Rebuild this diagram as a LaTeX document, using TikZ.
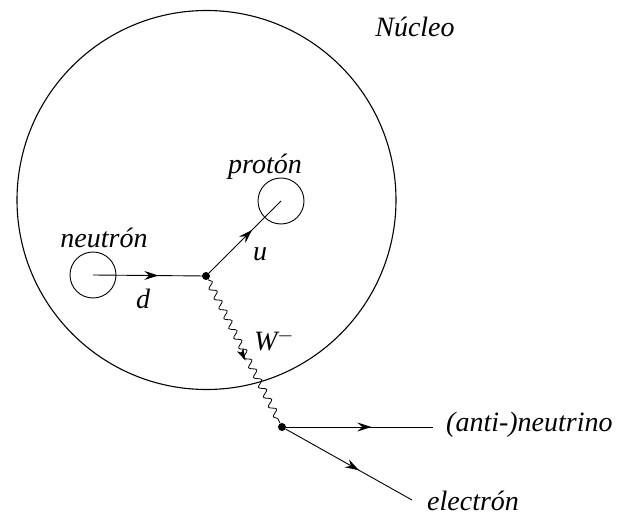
\documentclass[tikz,border=0pt]{standalone}
\usepackage{fontspec}
\setmainfont{Liberation Serif}
\usetikzlibrary{arrows.meta,decorations.pathmorphing,decorations.markings}
\tikzset{
  lbl/.style={font=\fontsize{28}{30}\selectfont\itshape, inner sep=0pt},
  part/.style={draw, circle, line width=0.9pt, minimum size=46pt, inner sep=0pt},
  fermion/.style={line width=0.9pt, decoration={markings, mark=at position #1 with {\arrow{Stealth[length=14pt,width=9pt,inset=5pt]}}}, postaction={decorate}},
  vdot/.style={circle, fill, inner sep=0pt, minimum size=8pt},
  boson/.style={line width=0.8pt, decorate, decoration={snake, segment length=11pt, amplitude=3.2pt}},
}
\begin{document}
\begin{tikzpicture}[x=1pt,y=-1pt]
\useasboundingbox (0,0) rectangle (630,519);
\draw[line width=1.1pt] (206.5,200) circle[radius=189.5];
\node[lbl] (nucleo) at (415,27) {Núcleo};
\node[part] (n) at (93,275) {};
\node[part] (p) at (281,201) {};
\node[lbl] (nlab) at (104,238) {neutrón};
\node[lbl] (plab) at (265,167) {protón};
\node[vdot] (v1) at (206,276) {};
\node[vdot] (v2) at (282,427) {};
\coordinate (nu) at (433,427);
\coordinate (el) at (412,500);
\draw[fermion=0.6] (n.center) -- (v1);
\draw[fermion=0.6] (v1) -- (p.center);
\draw[boson] (v1) -- (v2);
\path[decoration={markings, mark=at position 0.56 with {\arrow{Stealth[length=12pt,width=7pt,inset=3pt]}}}, postaction={decorate}] ([xshift=-3pt]v1.center) -- ([xshift=-3pt]v2.center);
\draw[fermion=0.58] (v2) -- (nu);
\draw[fermion=0.58] (v2) -- (el);
\node[lbl] (d) at (143,299) {d};
\node[lbl] (u) at (260,254) {u};
\node[lbl] (w) at (274,340) {W$^{-}$};
\node[lbl, anchor=west] (nulab) at (446,425) {(anti-)neutrino};
\node[lbl, anchor=west] (ellab) at (427,501) {electrón};
\end{tikzpicture}
\end{document}
